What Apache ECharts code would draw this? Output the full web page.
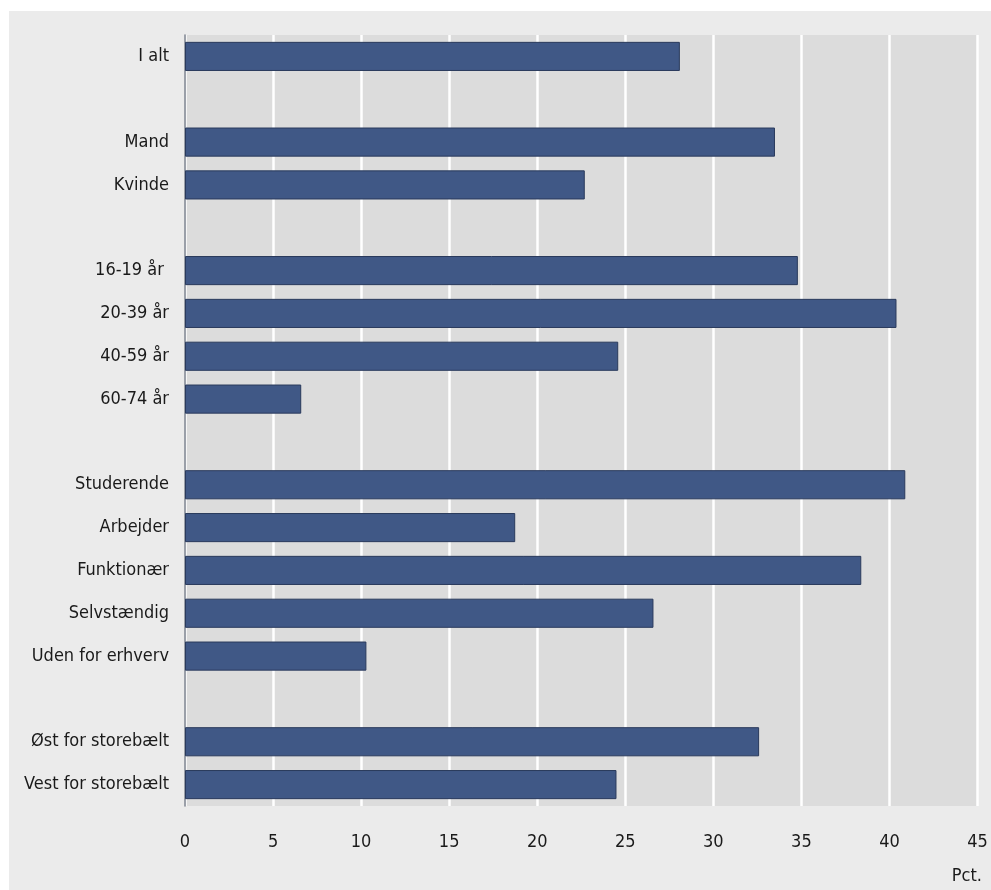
<!DOCTYPE html>
<html>
<head>
<meta charset="utf-8">
<script src="https://cdn.jsdelivr.net/npm/echarts@6/dist/echarts.min.js"></script>
<style>
html,body{margin:0;padding:0;background:#ffffff;}
#chart{width:991px;height:890px;}
</style>
</head>
<body>
<div id="chart"></div>
<script>
var categories = ['I alt', '', 'Mand', 'Kvinde', ' ', '16-19 år ', '20-39 år', '40-59 år', '60-74 år', '  ',
  'Studerende', 'Arbejder', 'Funktionær', 'Selvstændig', 'Uden for erhverv', '   ',
  'Øst for storebælt', 'Vest for storebælt'];
var values = [28.1, null, 33.5, 22.7, null, 34.8, 40.4, 24.6, 6.6, null,
  40.9, 18.75, 38.4, 26.6, 10.3, null, 32.6, 24.5];
var xTicks = [0, 5, 10, 15, 20, 25, 30, 35, 40, 45];
var unitLabel = 'Pct.';

var FONT = "'Liberation Sans Narrow', 'DejaVu Sans Condensed', 'Open Sans', sans-serif";
var chart = echarts.init(document.getElementById('chart'), null, {renderer: 'canvas'});
chart.setOption({
  backgroundColor: '#ffffff',
  animation: false,
  graphic: [
    {type: 'rect', z: -10, shape: {x: 9, y: 11, width: 982, height: 879}, style: {fill: '#ebebeb'}},
    {type: 'text', right: 9, top: 867, style: {text: unitLabel, font: '18px ' + FONT, fill: '#1a1a1a'}}
  ],
  grid: {left: 185, right: 13.5, top: 35, bottom: 84, show: true, backgroundColor: '#dcdcdc', borderWidth: 0},
  xAxis: {
    type: 'value', min: xTicks[0], max: xTicks[xTicks.length - 1], interval: 5,
    axisLine: {show: false}, axisTick: {show: false},
    splitLine: {show: true, lineStyle: {color: '#ffffff', width: 2.5}},
    axisLabel: {margin: 27, fontSize: 18, fontFamily: FONT, color: '#1a1a1a'}
  },
  yAxis: {
    type: 'category', data: categories, inverse: true,
    axisLine: {show: true, lineStyle: {color: '#7a808c', width: 1.5}},
    axisTick: {show: false},
    axisLabel: {margin: 16, fontSize: 18, fontFamily: FONT, color: '#1a1a1a'}
  },
  series: [{
    type: 'bar', data: values, barCategoryGap: '32%',
    itemStyle: {color: '#405886', borderColor: '#2a3a5c', borderWidth: 1}
  }]
});
</script>
</body>
</html>
